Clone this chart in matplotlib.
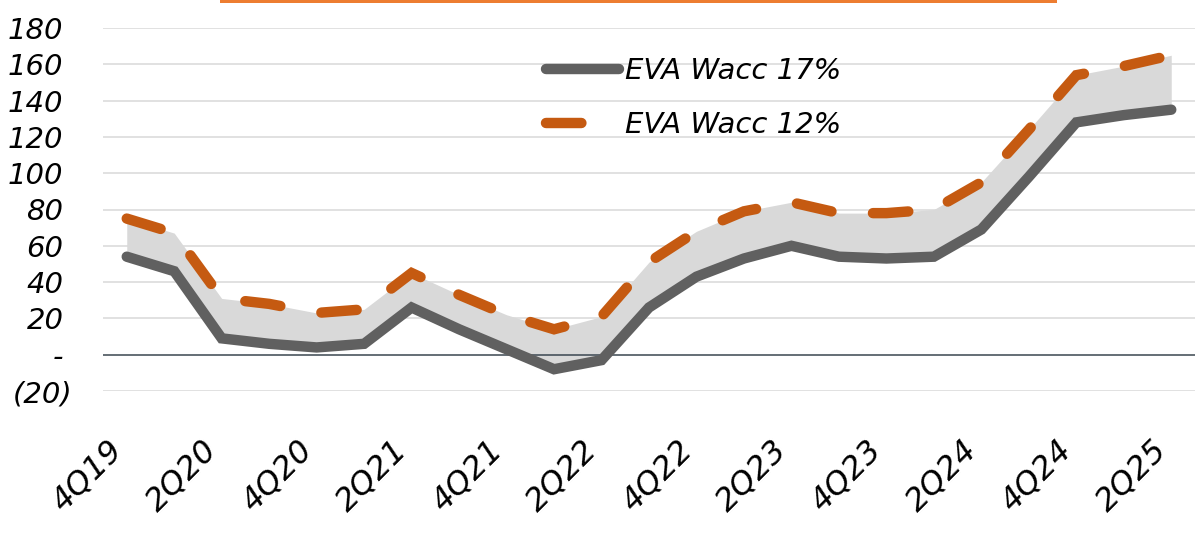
import matplotlib
matplotlib.use("Agg")
import matplotlib.pyplot as plt
from matplotlib.patches import Rectangle
from matplotlib.transforms import ScaledTranslation

# Quarterly EVA under two WACC assumptions
quarters = ["4Q19", "1Q20", "2Q20", "3Q20", "4Q20", "1Q21", "2Q21", "3Q21",
            "4Q21", "1Q22", "2Q22", "3Q22", "4Q22", "1Q23", "2Q23", "3Q23",
            "4Q23", "1Q24", "2Q24", "3Q24", "4Q24", "1Q25", "2Q25"]
eva_wacc17 = [54, 46, 9, 6, 4, 6, 26, 14, 3, -8, -3, 26, 43, 53, 60, 54,
              53, 54, 69, 98, 128, 132, 135]
eva_wacc12 = [75, 67, 31, 28, 23, 25, 45, 33, 22, 14, 21, 51, 68, 79, 84, 78,
              78, 80, 95, 124, 154, 159, 165]
y_ticks = [-20, 0, 20, 40, 60, 80, 100, 120, 140, 160, 180]
label_every = 2

plt.rcParams["font.family"] = ["DejaVu Sans"]
plt.rcParams["font.style"] = "italic"

GRAY = "#606060"
ORANGE = "#C55A11"
FILL = "#D9D9D9"
GRID = "#D9D9D9"
FS = 21
FS_X = 23

W, H = 1204, 535
fig = plt.figure(figsize=(W / 100, H / 100), dpi=100)
ax = fig.add_axes([103 / W, 1 - 391 / H, (1195 - 103) / W, (391 - 28) / H])

x = list(range(len(quarters)))

ax.fill_between(x, eva_wacc17, eva_wacc12, color=FILL, lw=0, zorder=1)
l17, = ax.plot(x, eva_wacc17, color=GRAY, lw=7.5, solid_capstyle="round",
               solid_joinstyle="miter", zorder=3, label="EVA Wacc 17%")
l12, = ax.plot(x, eva_wacc12, color=ORANGE, lw=7.5, dashes=(3.4, 4.0),
               dash_capstyle="round", dash_joinstyle="miter", zorder=4,
               label="EVA Wacc 12%")

ax.set_xlim(-0.5, len(quarters) - 0.5)
ax.set_ylim(-20, 180)

for v in y_ticks:
    if v == 0:
        ax.axhline(v, color="#3B4650", lw=1.1, zorder=2)
    else:
        ax.axhline(v, color=GRID, lw=1.1, zorder=0)

for s in ax.spines.values():
    s.set_visible(False)

def fmt(v):
    if v < 0:
        return f"({abs(v)})"
    if v == 0:
        return "-"
    return f"{v}"

ax.set_yticks(y_ticks)
ax.set_yticklabels([fmt(v) for v in y_ticks])
ax.tick_params(axis="y", length=0, pad=22, labelsize=FS, labelcolor="black")
for v, lab in zip(y_ticks, ax.get_yticklabels()):
    if v >= 0:
        lab.set_transform(lab.get_transform() +
                          ScaledTranslation(-9 / 100, 0, fig.dpi_scale_trans))

# rotated quarter labels: right edge under the point, centred vertically
tick_pos = x[::label_every]
ax.set_xticks(tick_pos)
ax.set_xticklabels([quarters[i] for i in tick_pos], rotation=45,
                   ha="right", va="center", rotation_mode="default")
ax.tick_params(axis="x", length=0, pad=61, labelsize=FS_X, labelcolor="black")
for lab in ax.get_xticklabels():
    lab.set_transform(lab.get_transform() +
                      ScaledTranslation(2 / 100, 0, fig.dpi_scale_trans))

leg = ax.legend(handles=[l17, l12], loc="upper left",
                bbox_to_anchor=(546 / W, 1 - 57 / H), bbox_transform=fig.transFigure,
                frameon=False, fontsize=FS, handlelength=2.5,
                handletextpad=0.2, labelspacing=0.9, borderpad=0,
                borderaxespad=0)

# accent bar along the top edge
fig.patches.append(Rectangle((220 / W, 1 - 3 / H), (1057 - 220) / W, 3 / H,
                             transform=fig.transFigure, color="#ED7D31",
                             lw=0))

fig.savefig("out.png", dpi=100)
